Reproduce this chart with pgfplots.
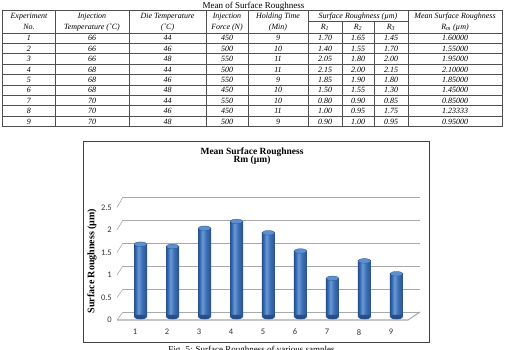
\documentclass[border=0pt]{standalone}
\usepackage{fontspec}
\setmainfont{Liberation Serif}
\newfontfamily\calibri{Carlito}
\usepackage{pgfplots}
\usepackage{pgfplotstable}
\pgfplotsset{compat=1.18}

\definecolor{cylD}{HTML}{26508A}
\definecolor{cylM}{HTML}{3F74B8}
\definecolor{cylL}{HTML}{6A9BDA}
\definecolor{cylTop}{HTML}{5E8FD0}
\definecolor{gridG}{HTML}{A8A8A8}
\definecolor{rule}{HTML}{505050}

% cylinder-like shading across each bar (path maps onto 25bp..75bp)
\pgfdeclarehorizontalshading{cyl}{100bp}{color(0bp)=(cylD); color(25bp)=(cylD);
  color(34bp)=(cylM); color(42bp)=(cylL); color(54bp)=(cylM); color(75bp)=(cylD); color(100bp)=(cylD)}
\pgfdeclareplotmark{cyltop}{%
  \pgfpathellipse{\pgfpointorigin}{\pgfqpoint{6.5pt}{0pt}}{\pgfqpoint{0pt}{2.3pt}}%
  \pgfusepathqfillstroke}
\pgfdeclareplotmark{cylbot}{%
  \pgfpathellipse{\pgfpointorigin}{\pgfqpoint{6.5pt}{0pt}}{\pgfqpoint{0pt}{2.3pt}}%
  \pgfusepathqfill}

% mean surface roughness Rm (um) per experiment
\pgfplotstableread{
sample rm
1 1.60000
2 1.55000
3 1.95000
4 2.10000
5 1.85000
6 1.45000
7 0.85000
8 1.23333
9 0.95000
}\rmdata

\pgfplotsset{plain/.style={scale only axis,anchor=south west,
  axis line style={draw=none},tick style={draw=none},major tick length=0pt}}

\begin{document}
\begin{tikzpicture}
\path[use as bounding box] (0pt,0pt) rectangle (511pt,350pt);
\clip (0pt,0pt) rectangle (511pt,350pt);

\begin{scope}[x=1pt,y=1pt]
% ---------------- table ----------------
\node[anchor=base,font=\fontsize{9}{10}\selectfont] at (253.5,341.5) {Mean of Surface Roughness};
\begin{scope}[draw=rule,line width=0.6pt]
  \draw (2.5,340) -- (502,340);
  \draw (308,329) -- (408,329);
  \foreach \yy in {317,306.6,296.2,285.8,275.4,265,254.6,244.2,233.8,223.4}
    \draw (2.5,\yy) -- (502,\yy);
  \foreach \xx in {2.5,55,129,206,248,308,408,502}
    \draw (\xx,340) -- (\xx,223.4);
  \foreach \xx in {342,374}
    \draw (\xx,329) -- (\xx,223.4);
\end{scope}
\begin{scope}[every node/.style={anchor=base,inner sep=0pt,font=\fontsize{8}{9}\selectfont\itshape}]
  \node at (29,331.5) {Experiment};
  \node at (29,320.5) {No.};
  \node at (92,331.5) {Injection};
  \node at (92,320.5) {Temperature (˚C)};
  \node at (167.5,331.5) {Die Temperature};
  \node at (167.5,320.5) {(˚C)};
  \node at (227,331.5) {Injection};
  \node at (227,320.5) {Force (N)};
  \node at (278,331.5) {Holding Time};
  \node at (278,320.5) {(Min)};
  \node at (358,331.5) {Surface Roughness (µm)};
  \node at (325,320.5) {R\textsubscript{1}};
  \node at (358,320.5) {R\textsubscript{2}};
  \node at (391,320.5) {R\textsubscript{3}};
  \node at (455,331.5) {Mean Surface Roughness};
  \node at (455,320.5) {R\textsubscript{m} (µm)};
  \foreach \k/\ti/\td/\fo/\ho/\ra/\rb/\rc/\rmv in {
      1/66/44/450/9/1.70/1.65/1.45/1.60000,
      2/66/46/500/10/1.40/1.55/1.70/1.55000,
      3/66/48/550/11/2.05/1.80/2.00/1.95000,
      4/68/44/500/11/2.15/2.00/2.15/2.10000,
      5/68/46/550/9/1.85/1.90/1.80/1.85000,
      6/68/48/450/10/1.50/1.55/1.30/1.45000,
      7/70/44/550/10/0.80/0.90/0.85/0.85000,
      8/70/46/450/11/1.00/0.95/1.75/1.23333,
      9/70/48/500/9/0.90/1.00/0.95/0.95000}{
    \pgfmathsetmacro\yb{350-33-10.4*(\k-0.5)-2.8}
    \node at (29,\yb) {\k};
    \node at (92,\yb) {\ti};
    \node at (167.5,\yb) {\td};
    \node at (227,\yb) {\fo};
    \node at (278,\yb) {\ho};
    \node at (325,\yb) {\ra};
    \node at (358,\yb) {\rb};
    \node at (391,\yb) {\rc};
    \node at (455,\yb) {\rmv};
  }
\end{scope}

% ---------------- chart frame and titles ----------------
\draw[black!75,line width=0.7pt] (83,8) rectangle (429,209);
\node[anchor=base,font=\fontsize{9.5}{10}\selectfont\bfseries] at (252,195.5) {Mean Surface Roughness};
\node[anchor=base,font=\fontsize{9.5}{10}\selectfont\bfseries] at (252,187.2) {Rm (µm)};
\node[rotate=90,font=\fontsize{10}{11}\selectfont\bfseries] at (92,89) {Surface Roughness (µm)};

% side wall and floor edges
\foreach \v in {0,0.5,1,1.5,2,2.5}
  \draw[gridG,line width=0.6pt] (117,{30+45*\v}) -- (123,{38+46*\v});
\draw[gridG,line width=1.1pt] (117,30) -- (408,30) -- (420,38);
\node[anchor=base,font=\fontsize{9}{10}\selectfont] at (251.5,-2.5) {Fig. 5: Surface Roughness of various samples};
\end{scope}

% back wall with its gridlines
\begin{axis}[plain,at={(123pt,38pt)},
  width=297pt,height=115pt,xmin=0,xmax=1,ymin=0,ymax=2.5,
  xtick=\empty,ytick={0,0.5,1,1.5,2,2.5},yticklabels={},
  ymajorgrids,grid style={gridG,line width=0.6pt}]
  \addplot[draw=none] coordinates {(0,0)};
\end{axis}

% cylinders: one plot per bar so each gets its own shading
\begin{axis}[plain,at={(124.5pt,33pt)},
  width=288pt,height=113.75pt,xmin=0.5,xmax=9.5,ymin=0,ymax=2.5,
  xtick=\empty,ytick=\empty,clip=false]
  \addplot[only marks,mark=cylbot,mark options={fill=cylD}] table[x=sample,y expr=0] {\rmdata};
  \pgfplotsinvokeforeach{1,...,9}{
    \addplot[ybar,bar shift=0pt,bar width=13pt,draw=none,shading=cyl,
      x filter/.expression={abs(x-#1)<0.1 ? x : nan}] table[x=sample,y=rm] {\rmdata};
  }
  \addplot[only marks,mark=cyltop,mark options={fill=cylTop,draw=cylD,line width=0.3pt}] table[x=sample,y=rm] {\rmdata};
\end{axis}

% front plane: tick labels
\begin{axis}[plain,at={(119pt,30pt)},
  width=288pt,height=112.5pt,xmin=0.5,xmax=9.5,ymin=0,ymax=2.5,
  xtick={1,2,3,4,5,6,7,8,9},ytick={0,0.5,1,1.5,2,2.5},
  /pgf/number format/assume math mode=true,
  yticklabel style={font=\calibri\fontsize{8.5}{9}\selectfont,anchor=east,inner sep=0pt,xshift=-7pt,text=black!80},
  xticklabel style={font=\calibri\fontsize{8.5}{9}\selectfont,anchor=north,inner sep=0pt,yshift=-9pt,text=black!80}]
  \addplot[draw=none] coordinates {(1,0)};
\end{axis}
\end{tikzpicture}
\end{document}
